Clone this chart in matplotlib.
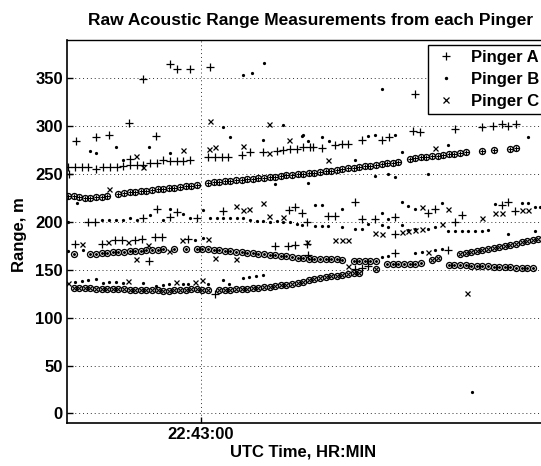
import numpy as np
import matplotlib
matplotlib.use("Agg")
import matplotlib.pyplot as plt

plt.rcParams['font.family'] = ['Liberation Sans', 'DejaVu Sans']

# time in seconds relative to 22:43:00
title = "Raw Acoustic Range Measurements from each Pinger"
xlabel = "UTC Time, HR:MIN"
ylabel = "Range, m"
xtick_vals = [0]
xtick_labels = ["22:43:00"]
ytick_vals = [0, 50, 100, 150, 200, 250, 300, 350]
legend_labels = ["Pinger A", "Pinger B", "Pinger C"]

# ---- raw measurements, Pinger A (+)
a_t = [-15.5, -12, -5.5, 4.5, -29, -36, -62.5, -52.5, -46, -22.5, -35.5,
       -66.3, -63, -59.7, -56.3, -52.5, -48.8, -45.5, -42.2, -38.8, -35.5, -32.2, -28.8,
       -25.5, -22.2, -18.8, -15.5, -12.2, -8.8, -5.5, -66,
       3.7, 7, 10.4, 13.7, 20.4, 24.5, 31.2, 37.9, 41.2, 44.5, 47.9, 51.2, 54.5,
       56.2, 60.4, 67, 70.4, 73.7, 80.4, 90.4, 94.2, 106.2, 109.5, 127, 140.4, 146.2,
       150.4, 153.7, 157.5, 107,
       -56.4, -53, -28.8, -22.2, -15.5, -12.2, -2.2, 52.8, 10.8, 44.2, 47,
       50.3, 63.7, 67, 77, 80.4, 87, 97, 113.7, 117, 127, 130.4, 150.4, 153.7, 157, 97,
       -63, -49.7, -43, -39.7, -33, -29.7, -23, -19.7, -6.4, -25.9, 37, 43.7, 47, 52.8,
       53.7, 97, 123.7, 77, 80.4, 83.7, 7]
a_r = [365, 360, 360, 361.6, 349, 303, 285, 289, 291, 290, 266,
       257.6, 257.6, 257.6, 257, 254.9, 257.6, 257.6, 257.6, 258.3, 259.4, 259.4, 259.4,
       261.1, 261.1, 264.6, 263.6, 263.6, 263.6, 264.6, 250,
       268, 268, 268, 268, 269.8, 272.7, 273.3, 274.4, 275.1, 275.8, 276.1, 277.9, 278.5,
       278.6, 277.7, 280.3, 281, 281, 285.5, 285.5, 288.4, 295.3, 294.2, 296.7, 298.8, 300.2,
       302.3, 300.2, 302, 333.7,
       200, 200, 203.6, 213, 205.3, 210.4, 203.6, 200, 211.5, 212.3, 215.7,
       208.8, 206.3, 206.3, 221, 202.8, 202.8, 205.2, 208.8, 213.3, 199.4, 207, 217.5, 220.3, 211.5, 187.1,
       177.4, 177.4, 180.8, 180.8, 180.8, 182.6, 184.3, 184.3, 182.6, 159.2, 174.6, 174.6, 175.6, 177.4,
       165.9, 167.5, 170.4, 150.5, 152.2, 153.6, 125]

# ---- raw measurements, Pinger B (.)
b_t = [-55.5, -52.5, -42.5, -39, -26, -15.5, 14.5, 10.8, 30.8, 40.8, 50.3, 53.5, 20.8, 25.3, 31.5,
       -62.2, 37,
       90.3, 163.7, 51, 60.3, 64.2, 83.7, 87, 97, 100.3, 77, 123.7, 53.7, 87, 93.7, 97, 113.7,
       -66.4, -49.5, -46, -42.5, -39, -35.5, -32, -25.5, -19, -15.5, -9, -5.5, 1,
       4.5, 7.9, 11.2, 14.5, 17.9, 21.2, 24.5, 27.9, 31.2, 34.5, 37.9, 41.2, 44.5, 47.9,
       57, 60.4, 70.4, 90.4, 93.7, 100.4, 103.7, 107, 120.4, 147, 160.4, 163.7, 167, 169.5,
       50.4, 57, 60.4, 63.7, 70.4, 77, 80.4, 83.7, 90.4, 93.7, 100.4, 103.7, 107, 113.7, 117,
       123.7, 127, 130.4, 133.7, 137, 140.4, 143.7, 153.7, 167,
       90.4, 93.7, 107, 110.4, 117, 120.4,
       -66.7, -59.2, -3, 0.8,
       -63, -59.7, -56.4, -52.5, -49.2, -45.9, -42.5, -39.2, -29.2, -22.5, -19.2, -15.9, -9.2,
       -6.4, 3.7, 10.9, 14.2, 20.9, 24.2, 27.5, 30.9,
       135.4]
b_r = [274, 272, 278, 264.6, 278, 272, 288.6, 299, 286, 301, 289.7, 284.5, 353.6, 355.4, 366,
       219.6, 239.5,
       339, 289, 290.8, 288.4, 284.8, 289.7, 290.8, 290.8, 273.3, 264.6, 280.3, 240.8, 247.9, 249.6, 247.1, 249.6,
       200, 201.8, 201.8, 201.8, 202.5, 204.6, 202.5, 207, 202.5, 213, 208, 204.6, 212.3,
       203.6, 203.6, 203.6, 203.6, 203.6, 203.6, 202.5, 201, 201, 200, 201, 200, 200, 198.3,
       217.5, 217.5, 213, 208.8, 202.8, 221, 216.8, 214, 219.3, 218.5, 220, 220, 215.7, 215.7,
       196.5, 195.5, 195.5, 195.5, 194.8, 193, 193, 198.3, 196.5, 194.8, 196.5, 191.3, 193, 193, 194.8,
       190.6, 190.6, 190.6, 190.6, 190.6, 190.6, 192, 187.9, 190.6,
       163.4, 164.1, 167.5, 168.6, 171, 172.1,
       169.3, 170.3, 180.8, 183.3,
       137.2, 138.2, 139.7, 140.7, 136, 137.2, 137.2, 136, 136, 132.7, 133.7, 134.7, 134.7,
       134.7, 134.7, 139.7, 134.7, 141.8, 142.4, 143.1, 144.1,
       22]

# ---- raw measurements, Pinger C (x)
c_t = [-32.5, -29.2, -9, 4, 7, 20.9, 4.5, 34, 44, 34, -45.9,
       63.7, 117,
       17.5, 20.9, 24.2, 30.9, 34.2, 40.9,
       -59.7, -46.4, -36.4, -26.4, -9.7, 3.7, 52.9,
       -32.5, 7, 17.5,
       -66.4, -36.4, -12.5, -3, 0.4,
       110.4, 123.7, 160.4, 163.7, 147, 150.4, 140.4, 120.4, 87, 90.4, 100.4, 103.7, 107, 110.4,
       67, 70.4, 73.7, 73.7, 113.7, 132.9, -15.9]
c_r = [269, 257, 275, 276, 278.5, 279.6, 305.8, 302, 285.6, 272, 234,
       264.6, 277.5,
       216.8, 212.3, 213, 219.3, 206.3, 205.3,
       177.4, 179, 179, 175.6, 180.8, 181.9, 179,
       161.7, 162.3, 161,
       136, 138.2, 137.2, 137.2, 139.7,
       215.7, 214, 212.3, 212.3, 209.4, 208.8, 204.6, 197.6, 188.5, 187.9, 189.5, 190.6, 192, 193,
       180.8, 180.8, 181.6, 153.6, 168.6, 125.7, 169.3]

# ---- selected (circled) ranges, one sample every 2.8 s starting at -66.5 s
sel_t = -66.5 + 2.8 * np.arange(85)
nan = np.nan
sel_a = [227, 227, 226, 224.5, 225, 226, 226.5, 227, nan,
         229.5, 230.1, 230.8, 231.4, 232.0, 232.7, 233.3, 233.9, 234.6, 235.2, 235.8, 236.5, 237.1, 237.7, 238.4,
         nan,
         240.8, 241.4, 241.9, 242.5, 243.0, 243.6, 244.1, 244.7, 245.2, 245.8, 246.3, 246.9, 247.4, 248.0,
         248.5, 249.1, 249.6, 250.2, 250.7,
         251.4, 252.2, 252.9, 253.7, 254.4, 255.2, 255.9, 256.7, 257.4, 258.2, 258.9, 259.7, 260.5, 261.3,
         262.0, 262.8,
         nan,
         266.0, 266.7, 267.3, 268.0, 268.6, 269.3, 269.9, 270.6, 271.2, 271.9, 272.6,
         nan, nan, 274.4, nan, 275, nan, nan, 276, 277, nan, nan, nan, nan]
sel_b = [nan, 166, nan, nan, 166.5,
         167.0, 167.4, 167.7, 168.1, 168.5, 168.8, 169.2, 169.6, 169.9, 170.3, 170.7, 171.0, 171.4,
         nan, 171.5, nan, 171.6, nan, 172,
         172.0, 171.5, 170.9, 170.4, 169.8, 169.3, 168.8, 168.2, 167.7, 167.1, 166.6, 166.1, 165.5, 165.0,
         164.5, 163.9, 163.4, 162.8, 162.3,
         161.5, 161.2, 161.0, 161.0, 160.8, 160.8, 160.6,
         nan, 159.4, 159.2, 159.2, 159.0, 158.8, nan,
         156.5, 156.4, 156.3, 156.3, 156.4, 156.5, 157.0,
         nan, nan, nan, nan,
         155.5, 155.2, 155.0, 154.7, 154.4, 154.2, 153.9, 153.6, 153.4, 153.1, 152.8, 152.6, 152.3, 152.0,
         151.8, 151.5,
         nan]
sel_c = [nan,
         131, 131, 130.5, 130.5, 130, 130, 130, 129.5, 129.5, 129.5, 129, 129, 129, 128.5, 128.5, 128.5,
         128, 128, 128.5, 128.5, 129, 129.5, 130,
         128.5, 128.5, nan,
         128.5, 128.8, 129.1, 129.5, 129.9, 130.3, 130.8, 131.3, 131.8, 132.4, 133.0, 133.7, 134.5, 135.4,
         136.4, 137.6, 139.0,
         140.2, 141.3, 142.3, 143.2, 144.0, 144.8, 145.5, 146.2, 147.0,
         nan, nan, 151,
         nan, nan, nan, nan, nan, nan, nan, nan, nan,
         160.6, 162.7,
         nan, nan, nan,
         166.0, 167.1, 168.3, 169.4, 170.6, 171.7, 172.9, 174.0, 175.1, 176.3, 177.4, 178.6, 179.7, 180.9,
         182.0]

W, H = 541, 466
fig = plt.figure(figsize=(W / 100, H / 100), dpi=100)
ax = fig.add_axes([67 / W, 1 - 423 / H, (547 - 67) / W, (423 - 40) / H])

k = 'black'
# selected tracks: circles with the raw marker inside
circ = dict(linestyle='none', marker='o', markersize=4.3, markerfacecolor='none',
            markeredgecolor=k, markeredgewidth=0.95, zorder=3)
ax.plot(sel_t, sel_a, **circ)
ax.plot(sel_t, sel_b, **circ)
ax.plot(sel_t, sel_c, **circ)
ax.plot(sel_t, sel_a, linestyle='none', marker='+', markersize=3.6, color=k, mew=0.8, zorder=3)
ax.plot(sel_t, sel_b, linestyle='none', marker='.', markersize=2.2, color=k, zorder=3)
ax.plot(sel_t, sel_c, linestyle='none', marker='x', markersize=2.6, color=k, mew=0.8, zorder=3)

# raw measurements
hA, = ax.plot(a_t, a_r, linestyle='none', marker='+', markersize=5.4, color=k, mew=0.9, zorder=4)
hB, = ax.plot(b_t, b_r, linestyle='none', marker='.', markersize=2.6, color=k, zorder=4)
hC, = ax.plot(c_t, c_r, linestyle='none', marker='x', markersize=3.6, color=k, mew=0.9, zorder=4)

ax.set_xlim(-67, 173)
ax.set_ylim(-10, 390)
ax.set_xticks(xtick_vals)
ax.set_xticklabels(xtick_labels)
ax.set_yticks(ytick_vals)
ax.grid(True, color='#333333', linestyle=(0, (1, 3)), linewidth=0.7)
ax.set_axisbelow(True)
ax.tick_params(direction='in', length=4, width=1, labelsize=12, pad=3)
for lab in ax.get_xticklabels() + ax.get_yticklabels():
    lab.set_fontweight('bold')
for s in ax.spines.values():
    s.set_color(k)
    s.set_linewidth(1.2)
ax.spines['top'].set_linewidth(1.0)

fig.text(311 / W, 1 - 20 / H, title, ha='center', va='center', fontsize=12.5, fontweight='bold')
fig.text(303 / W, 1 - 452 / H, xlabel, ha='center', va='center', fontsize=12, fontweight='bold')
fig.text(20 / W, 1 - 235 / H, ylabel, ha='center', va='center', rotation=90, fontsize=12, fontweight='bold')

leg = ax.legend([hA, hB, hC], legend_labels, loc='upper left',
                bbox_to_anchor=(428 / W, 1 - 45 / H), bbox_transform=fig.transFigure,
                frameon=True, fancybox=False, edgecolor=k, framealpha=1,
                prop={'weight': 'bold', 'size': 12}, handlelength=1.6, handletextpad=0.7,
                labelspacing=0.42, borderpad=0.3, borderaxespad=0, markerscale=1.1)
leg.get_frame().set_linewidth(1.0)

fig.savefig('out.png', dpi=100)
